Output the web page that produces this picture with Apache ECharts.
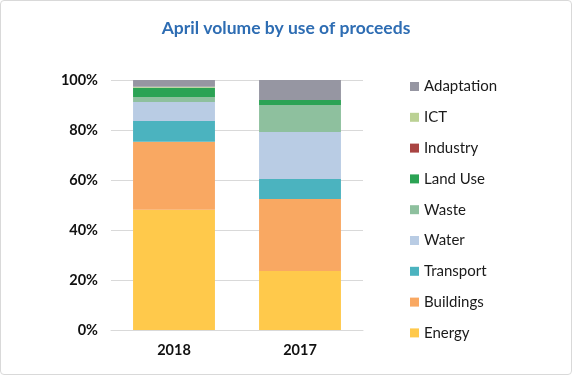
<!DOCTYPE html>
<html>
<head>
<meta charset="utf-8">
<script src="https://cdn.jsdelivr.net/npm/echarts@6/dist/echarts.min.js"></script>
<style>
    html, body { margin: 0; padding: 0; background: #fff; }
    #main_chart { width: 570px; height: 373px; border: 1px solid #d9d9d9; border-radius: 4px; }
</style>
</head>
<body>
<div id="main_chart"></div>
<script>
// values in percent of each year's volume
let years = ['2018', '2017'];
let energy = [48.1, 23.6];
let buildings = [27.2, 28.8];
let transport = [8.3, 8.0];
let water = [7.6, 18.8];
let waste = [2.0, 10.8];
let landUse = [3.7, 2.0];
let industry = [0, 0];
let ict = [0.4, 0];
let adaptation = [2.7, 8.0];

// stack order, bottom to top
let seriesDefs = [
    {name: 'Energy', data: energy, color: '#ffc94b'},
    {name: 'Buildings', data: buildings, color: '#f9a862'},
    {name: 'Transport', data: transport, color: '#4bb3bf'},
    {name: 'Water', data: water, color: '#b9cce4'},
    {name: 'Waste', data: waste, color: '#8ec09e'},
    {name: 'Land Use', data: landUse, color: '#2ba354'},
    {name: 'Industry', data: industry, color: '#a94442'},
    {name: 'ICT', data: ict, color: '#bbd194'},
    {name: 'Adaptation', data: adaptation, color: '#9696a2'}
];
let legendOrder = ['Adaptation', 'ICT', 'Industry', 'Land Use', 'Waste', 'Water', 'Transport', 'Buildings', 'Energy'];

let myChart = echarts.init(document.getElementById('main_chart'));
let font = 'Lato, "Liberation Sans", sans-serif';

let option = {
    animation: false,
    title: {
        text: 'April volume by use of proceeds',
        left: 'center',
        top: 18,
        padding: 0,
        textStyle: {
            fontFamily: font,
            fontSize: 17.5,
            fontWeight: 'bold',
            color: '#2e6db3'
        }
    },
    grid: {
        left: 110,
        top: 79,
        width: 252,
        height: 250
    },
    legend: {
        orient: 'vertical',
        left: 409,
        top: 78,
        padding: 0,
        itemWidth: 9,
        itemHeight: 9,
        itemGap: 15.8,
        icon: 'rect',
        data: legendOrder,
        textStyle: {
            fontFamily: font,
            fontSize: 15,
            color: '#1a1a1a'
        }
    },
    xAxis: {
        type: 'category',
        data: years,
        axisLine: {lineStyle: {color: '#d9d9d9'}},
        axisTick: {show: false},
        axisLabel: {
            fontFamily: font,
            fontSize: 14.5,
            fontWeight: 'bold',
            color: '#111',
            margin: 13
        }
    },
    yAxis: {
        type: 'value',
        min: 0,
        max: 100,
        interval: 20,
        axisLine: {show: false},
        axisTick: {show: false},
        splitLine: {lineStyle: {color: '#d9d9d9'}},
        axisLabel: {
            formatter: '{value}%',
            fontFamily: font,
            fontSize: 14.5,
            fontWeight: 'bold',
            color: '#111',
            margin: 13
        }
    },
    series: seriesDefs.map(s => {
        return {
            name: s.name,
            type: 'bar',
            stack: 'total',
            barCategoryGap: '35%',
            data: s.data,
            itemStyle: {color: s.color}
        }
    })
};
myChart.setOption(option);
</script>
</body>
</html>
